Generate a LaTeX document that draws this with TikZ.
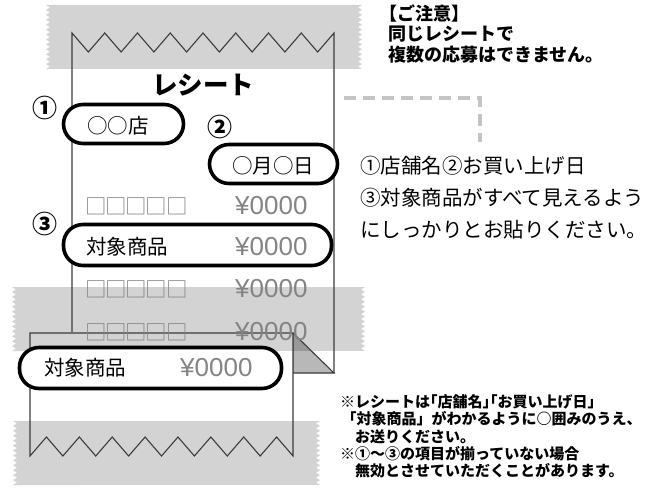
\documentclass[tikz,border=0pt]{standalone}
\usepackage{fontspec}
\usepackage{tikz}
\usetikzlibrary{positioning}
\newfontfamily\jp{Noto Sans CJK JP}
\newfontfamily\lat{Liberation Sans}
\definecolor{tgray}{RGB}{211, 211, 211}
\definecolor{lgray}{RGB}{60, 60, 60}
\definecolor{pgray}{RGB}{132, 132, 132}
\definecolor{dgray}{RGB}{196, 196, 196}
\tikzset{ring/.style = {draw, fill=white, line width=3.6pt, rounded corners=19.5pt, inner sep=0}}
\tikzset{edge/.style = {lgray, line width=1.1pt}}
\tikzset{num/.style = {font=\jp\bfseries\fontsize{25}{25}\selectfont, inner sep=0}}
\tikzset{item/.style = {font=\jp\fontsize{20.5}{20.5}\selectfont, inner sep=0, anchor=west}}
\tikzset{cell/.style = {font=\jp\fontsize{21.5}{21.5}\selectfont, pgray, inner sep=0, anchor=west}}
\tikzset{price/.style = {font=\lat\fontsize{26}{26}\selectfont, pgray, inner sep=0, anchor=west}}
\tikzset{note/.style = {font=\jp\fontsize{20.5}{32}\selectfont, inner sep=0, anchor=north west, align=left}}
\tikzset{warn/.style = {font=\jp\bfseries\fontsize{18}{20.5}\selectfont, inner sep=0, anchor=north west, align=left}}
\tikzset{fine/.style = {font=\jp\bfseries\fontsize{15}{17.2}\selectfont, inner sep=0, anchor=north west, align=left}}
\newcommand{\boxrow}{□\kern-1.3pt□\kern-1.3pt□\kern-1.3pt□\kern-1.3pt□}
\newcommand{\tapeband}[4]{%
  \fill [tgray] (#1, #3) -- (#2, #3)
    \foreach \k in {1,...,13} { -- ++(-4, 2.46) -- ++(4, 2.46) }
    -- (#1, #4)
    \foreach \k in {1,...,13} { -- ++(4, -2.46) -- ++(-4, -2.46) }
    -- cycle;}

\begin{document}
\begin{tikzpicture}[x=1pt, y=-1pt]
      \useasboundingbox (0, 0) rectangle (652, 487);

      \tapeband{46}{362}{5}{69}
      \tapeband{12}{365}{287}{351}
      \tapeband{13}{320}{421}{485}

      \draw [edge] (72, 332) -- (72, 33)
        \foreach \k in {1,...,8} { -- ++(16.375, 19) -- ++(16.375, -19) } -- (334, 373);
      \draw [edge] (293, 333) -- (30, 333) -- (30, 456)
        \foreach \k in {1,...,8} { -- ++(16.44, -19) -- ++(16.44, 19) } -- cycle;

      \fill [black, fill opacity=0.28] (293, 333) -- (334, 373) -- (293, 373) -- cycle;
      \draw [edge] (293, 333) -- (334, 373) -- (293, 373);

      \node [font=\jp\bfseries\fontsize{25.5}{25.5}\selectfont] (title) at (203, 85) {レシート};

      \node [ring, minimum width=120pt, minimum height=39pt] (shopring) at (123.5, 124) {};
      \node [ring, minimum width=128pt, minimum height=39pt] (datering) at (273.5, 164) {};
      \node [ring, minimum width=268pt, minimum height=41pt] (itemring) at (197.5, 245) {};
      \node [ring, minimum width=262pt, minimum height=41pt] (foldring) at (150.5, 368) {};

      \node [num] (n1) at (45, 108) {①};
      \node [num] (n2) at (220, 127) {②};
      \node [num] (n3) at (45, 224) {③};

      \node [item] (shop) at (87, 126) {○○店};
      \node [item] (date) at (232, 166) {○月○日};

      \foreach \y/\n in {206/a, 289/c, 332/d} {
        \node [cell] (box\n) at (85, \y) {\boxrow};
        \node [price] (yen\n) at (235, \y) {¥0000};
      }
      \node [item] (boxb) at (86, 247) {対象商品};
      \node [price] (yenb) at (235, 247) {¥0000};

      \node [item] (foldbox) at (44, 368) {対象商品};
      \node [price] (foldyen) at (180, 368) {¥0000};

      \node [warn] (caution) at (388, 4) {\hspace*{-0.5em}【ご注意】\\同じレシートで\\複数の応募はできません。};

      \node [note] (howto) at (360, 156) {①店舗名②お買い上げ日\\③対象商品がすべて見えるよう\\にしっかりとお貼りください。};

      \coordinate (lead) at (344, 98);
      \coordinate (bend) at (480, 98);
      \coordinate (drop) at (480, 142);
      \draw [dgray, line width=4pt, dash pattern=on 12pt off 7pt] (lead) -- (bend) -- (drop);

      \node [fine] (rules) at (340, 394.5) {※レシートは\kern-0.5em「店舗名」\kern-1em「お買い上げ日」\\\hspace*{0.1em}「対象商品」がわかるように○囲みのうえ、\\\hspace*{1em}お送りください。\\※①～③の項目が揃っていない場合\\\hspace*{1em}無効とさせていただくことがあります。};
\end{tikzpicture}
\end{document}
